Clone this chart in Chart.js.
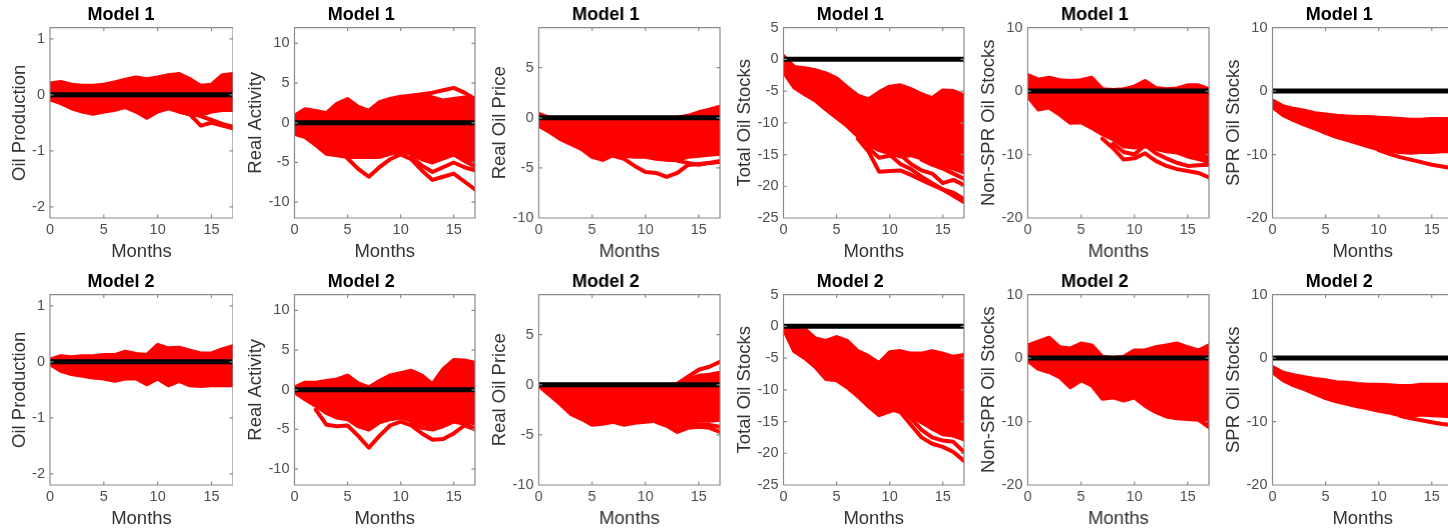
<!DOCTYPE html>
<html><head><meta charset="utf-8">
<script src="https://cdn.jsdelivr.net/npm/chart.js@4/dist/chart.umd.min.js"></script>
<style>
html,body{margin:0;padding:0;background:#fff;overflow:hidden;}
#wrap{position:relative;width:1448px;height:532px;overflow:hidden;background:#fff;}
.cell{position:absolute;}
</style></head><body><div id="wrap"></div>
<script>
const N = null;
const months = [0,1,2,3,4,5,6,7,8,9,10,11,12,13,14,15,16,17];
const xTicks = [0,5,10,15];
const zeroLine = [0,0,0,0,0,0,0,0,0,0,0,0,0,0,0,0,0,0];

const modelTitles = ['Model 1','Model 2'];
const varLabels = ['Oil Production','Real Activity','Real Oil Price','Total Oil Stocks','Non-SPR Oil Stocks','SPR Oil Stocks'];
const yLimits = [[-2.2,1.2],[-12,12],[-10,9],[-25,5],[-20,10],[-20,10]];
const yTickSets = [[-2,-1,0,1],[-10,-5,0,5,10],[-10,-5,0,5],[-25,-20,-15,-10,-5,0,5],[-20,-10,0,10],[-20,-10,0,10]];

// Model 1
const p1Up = [0.20,0.23,0.18,0.16,0.16,0.18,0.22,0.27,0.31,0.28,0.31,0.35,0.37,0.28,0.16,0.18,0.35,0.37];
const p1Lo = [-0.08,-0.15,-0.24,-0.30,-0.34,-0.30,-0.27,-0.22,-0.30,-0.41,-0.30,-0.24,-0.30,-0.35,-0.36,-0.30,-0.27,-0.27];
const p1OutA = [N,N,N,N,N,N,N,N,N,N,N,N,-0.30,-0.35,-0.55,-0.50,-0.55,-0.60];
const p1OutB = [N,N,N,N,N,N,N,N,N,N,N,N,N,-0.33,-0.38,-0.45,-0.52,-0.57];

const p2Up = [0.9,1.7,1.5,1.2,2.4,3.0,2.0,1.5,2.6,3.0,3.3,3.4,3.5,3.2,2.8,3.0,3.2,2.8];
const p2Top = [N,N,N,N,N,N,N,N,N,N,N,3.4,3.6,3.8,4.1,4.4,3.8,3.0];
const p2Lo = [-1.4,-1.8,-2.8,-3.9,-4.1,-4.3,-4.3,-4.3,-4.3,-3.9,-3.7,-3.9,-4.6,-5.0,-4.5,-4.0,-4.8,-5.5];
const p2OutA = [N,N,N,N,N,-4.5,-5.8,-6.8,-5.6,-4.6,-4.0,-4.6,-6.0,-7.2,-6.8,-6.4,-7.4,-8.4];
const p2OutB = [N,N,N,N,N,N,N,N,N,N,N,-4.3,-5.4,-6.2,-5.6,-5.0,-5.6,-6.0];

const p3Up = [0.4,0,0,0,0,0,0,0,0,0,0,0,0,0,0.2,0.55,0.8,1.1];
const p3Lo = [-0.8,-1.4,-2.1,-2.6,-3.1,-3.9,-4.2,-3.7,-3.8,-3.9,-3.9,-4.1,-4.2,-4.2,-3.9,-3.8,-3.7,-3.6];
const p3OutA = [N,N,N,N,N,N,N,-3.8,-4.1,-4.8,-5.4,-5.5,-5.9,-5.5,-4.7,-4.6,-4.5,-4.3];
const p3OutB = [N,N,N,N,N,N,N,N,N,N,N,N,N,-4.3,-4.5,-4.7,-4.5,-4.4];

const p4Up = [0.5,-1.2,-1.4,-1.7,-2.2,-3.0,-4.4,-5.7,-6.3,-5.2,-4.3,-4.1,-4.7,-5.5,-6.1,-4.9,-5.0,-5.7];
const p4Lo = [-2.0,-4.4,-5.5,-6.5,-7.9,-9.2,-10.5,-12.1,-13.5,-14.3,-14.8,-15.3,-15.1,-15.6,-16.1,-16.7,-17.2,-17.8];
const p4OutA = [N,N,N,N,N,N,N,-12.5,-14.5,-17.7,-17.6,-17.5,-18.2,-19.0,-19.8,-20.5,-21.5,-22.5];
const p4OutB = [N,N,N,N,N,N,N,N,-14.0,-15.5,-15.2,-15.0,-16.5,-17.5,-18.0,-19.5,-19.0,-19.8];
const p4OutC = [N,N,N,N,N,N,N,N,N,N,-15.0,-16.5,-17.3,-18.5,-19.5,-20.5,-21.0,-22.0];
const p4OutD = [N,N,N,N,N,N,N,N,N,N,N,N,N,-15.8,-16.6,-17.2,-18.0,-18.8];

const p5Up = [2.5,1.8,2.1,1.7,1.6,1.7,2.1,0.3,0.15,0.3,0.7,1.6,0.5,0.3,0.4,0.9,0.9,0.3];
const p5Lo = [-0.8,-2.9,-2.6,-3.7,-5.0,-4.9,-5.8,-6.8,-7.6,-8.7,-8.9,-8.7,-9.1,-9.5,-9.7,-10.3,-10.7,-11.2];
const p5OutA = [N,N,N,N,N,N,N,-7.5,-9.0,-10.8,-10.6,-9.8,-11.0,-11.8,-12.3,-12.6,-12.9,-13.6];
const p5OutB = [N,N,N,N,N,N,N,N,-8.3,-9.6,-10.0,-8.5,-9.8,-10.6,-11.3,-11.8,-11.7,-11.6];

const p6Up = [-1.5,-2.4,-2.8,-3.1,-3.5,-3.7,-3.9,-4.0,-4.1,-4.1,-4.2,-4.3,-4.4,-4.5,-4.5,-4.4,-4.4,-4.4];
const p6Lo = [-2.5,-3.8,-4.6,-5.3,-5.9,-6.6,-7.2,-7.7,-8.2,-8.7,-9.2,-9.5,-9.6,-9.7,-9.6,-9.6,-9.5,-9.5];
const p6Out = [N,N,N,N,N,N,N,N,N,N,-9.3,-9.9,-10.4,-10.8,-11.2,-11.6,-11.9,-12.2];

// Model 2
const p7Up = [0.04,0.10,0.08,0.10,0.10,0.12,0.12,0.18,0.14,0.12,0.30,0.24,0.25,0.20,0.15,0.15,0.22,0.28];
const p7Lo = [-0.04,-0.16,-0.22,-0.25,-0.28,-0.30,-0.34,-0.30,-0.30,-0.40,-0.30,-0.42,-0.34,-0.42,-0.43,-0.42,-0.42,-0.42];

const p8Up = [0.3,0.9,0.9,1.1,1.3,1.8,0.8,0.3,1.1,1.8,2.1,2.4,1.8,0.7,2.6,3.75,3.7,3.4];
const p8Lo = [-0.3,-1.2,-2.0,-2.9,-3.5,-3.7,-4.6,-5.0,-4.1,-3.7,-3.5,-3.9,-4.3,-4.6,-4.2,-3.9,-3.9,-4.3];
const p8OutA = [N,N,-2.5,-4.4,-4.6,-4.5,-5.8,-7.3,-5.8,-4.5,-4.0,-4.5,-5.5,-6.3,-6.2,-5.5,-4.5,-5.0];
const p8OutB = [N,N,N,N,N,N,N,N,N,N,N,-4.2,-4.8,-5.0,-4.6,-4.0,-4.3,-4.9];

const p9Up = [0,0,0,0,0,0,0,0,0,0,0,0,0,0,0.5,0.9,1.0,1.2];
const p9Top = [N,N,N,N,N,N,N,N,N,N,N,N,N,0.1,0.8,1.5,1.8,2.3];
const p9Lo = [-0.1,-1.0,-1.9,-2.9,-3.4,-4.0,-3.9,-3.7,-4.0,-3.8,-3.7,-3.6,-3.9,-4.0,-3.7,-3.6,-3.6,-3.5];
const p9OutA = [N,N,N,N,N,N,N,N,N,N,N,-3.7,-4.1,-4.7,-4.3,-4.2,-4.3,-4.7];
const p9OutB = [N,N,N,N,N,N,N,N,N,N,N,N,-3.9,-4.4,-4.0,-4.0,-4.0,-4.2];

const p10Up = [0.0,-0.6,-0.4,-1.9,-2.3,-1.7,-2.3,-3.9,-4.7,-5.8,-4.1,-3.9,-4.3,-4.3,-3.9,-4.3,-4.8,-4.5];
const p10Lo = [-0.4,-3.9,-5.0,-6.4,-8.3,-8.5,-9.6,-11.0,-12.6,-14.0,-13.4,-12.9,-14.2,-15.1,-16.1,-17.0,-17.2,-17.8];
const p10OutA = [N,N,N,N,N,N,N,N,N,N,-13.0,-13.5,-15.5,-17.5,-18.5,-19.0,-19.8,-21.2];
const p10OutB = [N,N,N,N,N,N,N,N,N,N,-12.6,-12.8,-14.5,-16.3,-17.5,-18.0,-18.2,-19.8];
const p10OutC = [N,N,N,N,N,N,N,N,N,N,N,N,N,N,-16.1,-16.6,-16.6,-17.1];

const p11Up = [2.0,2.6,3.2,1.7,1.5,2.3,2.0,0.2,0.0,0.2,1.2,1.2,1.7,2.0,2.3,1.7,1.2,2.0];
const p11Lo = [-0.4,-1.7,-2.2,-3.0,-4.6,-3.5,-4.3,-6.4,-6.2,-6.7,-6.2,-7.5,-8.5,-9.2,-9.5,-9.6,-9.7,-10.9];

const p12Up = [-1.4,-2.3,-2.7,-3.0,-3.3,-3.5,-3.8,-3.9,-4.1,-4.2,-4.2,-4.3,-4.4,-4.4,-4.2,-4.2,-4.2,-4.2];
const p12Lo = [-2.2,-3.5,-4.3,-4.9,-5.6,-6.3,-6.8,-7.2,-7.6,-7.9,-8.3,-8.6,-9.0,-9.1,-8.9,-9.0,-9.1,-9.2];
const p12Out = [N,N,N,N,N,N,N,N,N,N,N,N,-9.1,-9.5,-9.8,-10.1,-10.4,-10.6];

const bands = [
  [p1Up,p1Lo,[p1OutA,p1OutB]],
  [p2Up,p2Lo,[p2Top,p2OutA,p2OutB]],
  [p3Up,p3Lo,[p3OutA,p3OutB]],
  [p4Up,p4Lo,[p4OutA,p4OutB,p4OutC,p4OutD]],
  [p5Up,p5Lo,[p5OutA,p5OutB]],
  [p6Up,p6Lo,[p6Out]],
  [p7Up,p7Lo,[]],
  [p8Up,p8Lo,[p8OutA,p8OutB]],
  [p9Up,p9Lo,[p9Top,p9OutA,p9OutB]],
  [p10Up,p10Lo,[p10OutA,p10OutB,p10OutC]],
  [p11Up,p11Lo,[]],
  [p12Up,p12Lo,[p12Out]]
];

Chart.defaults.font.family = '"Liberation Sans", Arial, Helvetica, sans-serif';
Chart.defaults.animation = false;

const RED = 'rgb(255,0,0)';
const toPts = arr => months.map((m,i) => ({x:m, y:arr[i]}));

const boxPlugin = {
  id:'matlabBox',
  afterDatasetsDraw(chart){
    const {ctx, chartArea, scales} = chart;
    const {left,right,top,bottom} = chartArea;
    ctx.save();
    ctx.strokeStyle = '#8a8a8a';
    ctx.lineWidth = 1.2;
    ctx.beginPath();
    ctx.rect(left, top, right-left, bottom-top);
    const L = 3.5;
    scales.x.ticks.forEach(t => {
      const px = scales.x.getPixelForValue(t.value);
      ctx.moveTo(px,bottom); ctx.lineTo(px,bottom-L);
      ctx.moveTo(px,top); ctx.lineTo(px,top+L);
    });
    scales.y.ticks.forEach(t => {
      const py = scales.y.getPixelForValue(t.value);
      ctx.moveTo(left,py); ctx.lineTo(left+L,py);
      ctx.moveTo(right,py); ctx.lineTo(right-L,py);
    });
    ctx.stroke();
    ctx.restore();
  }
};

const wrap = document.getElementById('wrap');
const PLOT_W = 183, X_H = 45, CELL_H = 263;

bands.forEach((b, idx) => {
  const row = Math.floor(idx/6), col = idx % 6;
  const [up, lo, extras] = b;
  const axisW = col === 0 ? 41 : 49.5;
  const plotLeft = 50 + col*244.4;
  const div = document.createElement('div');
  div.className = 'cell';
  div.style.left = (plotLeft - axisW) + 'px';
  div.style.top = (row === 0 ? 0 : 267) + 'px';
  div.style.width = (axisW + PLOT_W) + 'px';
  div.style.height = CELL_H + 'px';
  const cv = document.createElement('canvas');
  div.appendChild(cv);
  wrap.appendChild(div);

  const lineDs = (arr, extra) => Object.assign({
    data: toPts(arr), borderColor: RED, backgroundColor: RED, borderWidth: 4,
    pointRadius: 0, tension: 0, fill: false, order: 2,
    borderJoinStyle: 'round', borderCapStyle: 'round', spanGaps: false
  }, extra || {});

  const datasets = [
    lineDs(up, {fill: '+1'}),
    lineDs(lo),
    ...extras.map(e => lineDs(e)),
    {data: toPts(zeroLine), borderColor: '#000', borderWidth: 5, pointRadius: 0, fill: false, order: 0}
  ];
  const [ymin, ymax] = yLimits[col];
  const yt = yTickSets[col];

  new Chart(cv, {
    type: 'line',
    data: {datasets},
    options: {
      responsive: true, maintainAspectRatio: false, animation: false, events: [],
      layout: {padding: 0},
      plugins: {
        legend: {display: false}, tooltip: {enabled: false},
        title: {display: true, text: modelTitles[row], color: '#000',
          font: {size: 18, weight: 'bold'}, padding: {top: 4, bottom: 2}}
      },
      scales: {
        x: {
          type: 'linear', min: 0, max: 17,
          afterBuildTicks: s => { s.ticks = xTicks.map(v => ({value: v})); },
          afterFit: s => { s.height = X_H; },
          grid: {display: false, drawTicks: false}, border: {display: false},
          ticks: {font: {size: 14.5}, color: '#4d4d4d', padding: 3, maxRotation: 0, autoSkip: false,
            callback: v => String(v)},
          title: {display: true, text: 'Months', color: '#333', font: {size: 18.5}, padding: {top: 0, bottom: 0}}
        },
        y: {
          type: 'linear', min: ymin, max: ymax,
          afterBuildTicks: s => { s.ticks = yt.map(v => ({value: v})); },
          afterFit: s => { s.width = axisW; },
          grid: {display: false, drawTicks: false}, border: {display: false},
          ticks: {font: {size: 14.5}, color: '#4d4d4d', padding: 5, callback: v => String(v)},
          title: {display: true, text: varLabels[col], color: '#333', font: {size: 18.5}, padding: {top: 0, bottom: 0}}
        }
      }
    },
    plugins: [boxPlugin]
  });
});
</script></body></html>
